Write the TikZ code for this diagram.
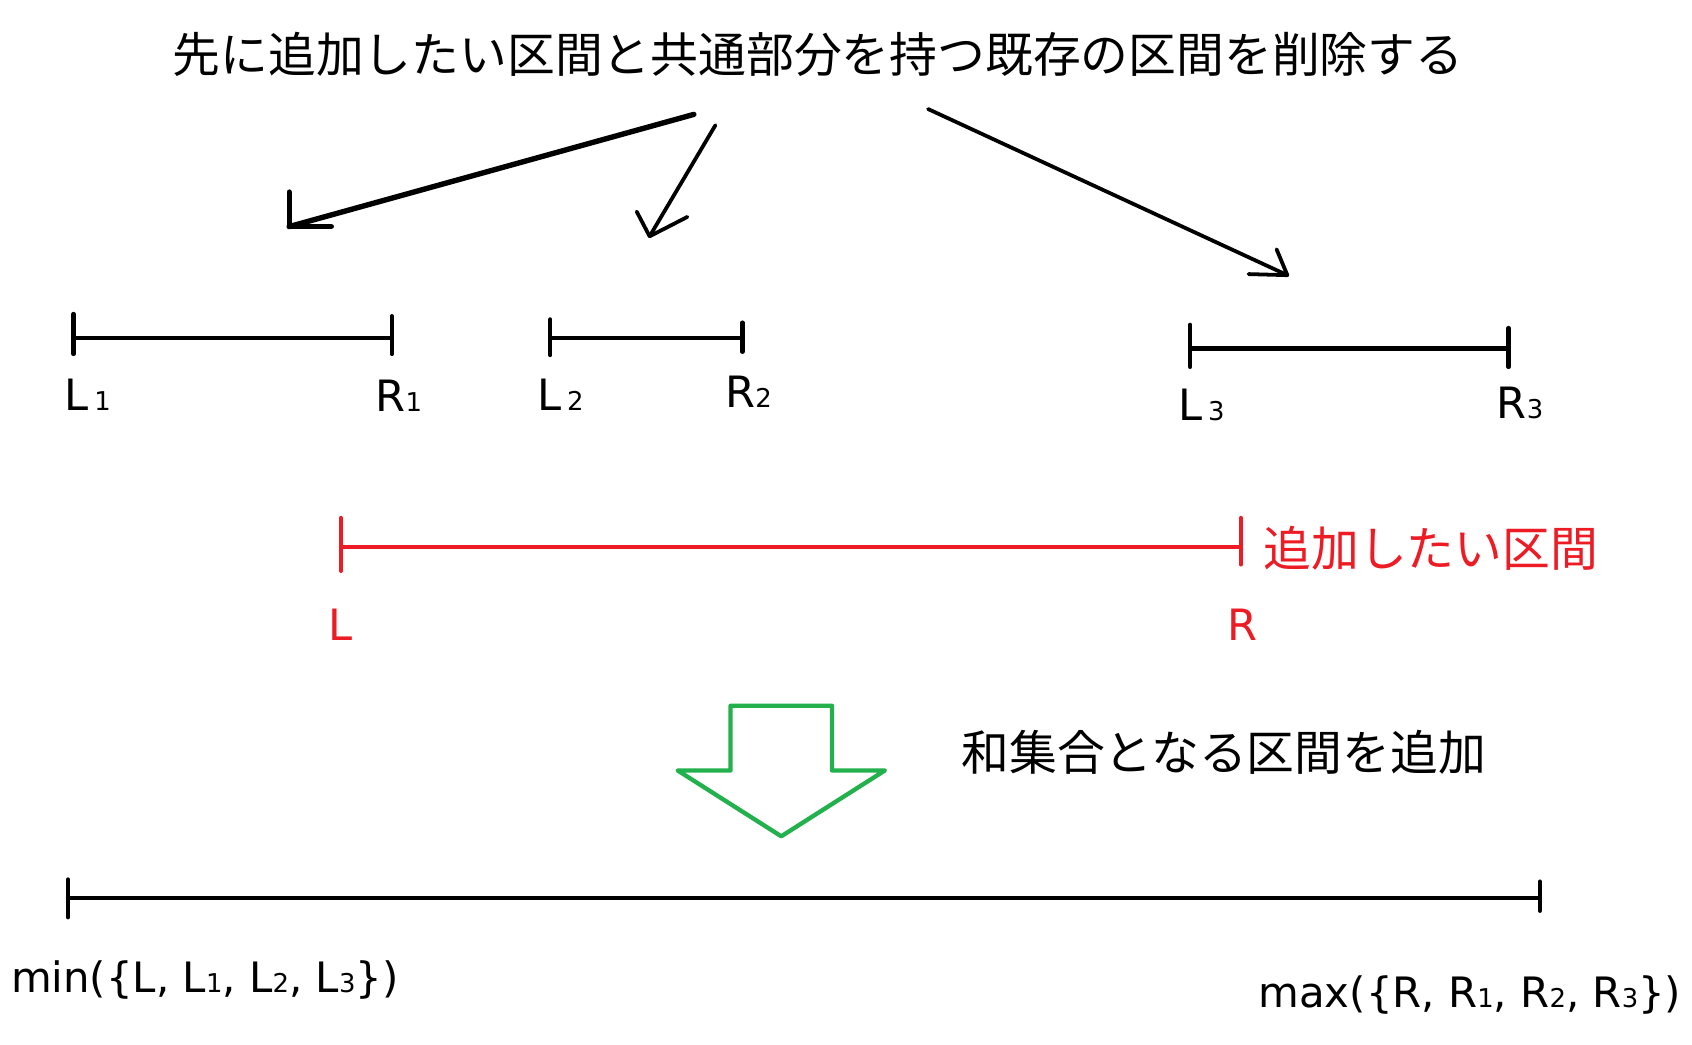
\documentclass[tikz,border=0pt]{standalone}
\usepackage{fontspec}
\setmainfont{Noto Sans CJK JP}
\newfontfamily\latinf{DejaVu Sans}
\definecolor{myred}{RGB}{237,28,36}
\definecolor{mygreen}{RGB}{34,177,76}
\newcommand{\bigf}{\fontsize{44.3}{50}\selectfont}
\newcommand{\labf}{\latinf\fontsize{40}{46}\selectfont}
\newcommand{\botf}{\latinf\fontsize{38.8}{46}\selectfont}
\newcommand{\subf}[1]{{\fontsize{24}{28}\selectfont #1}}
\begin{document}
\begin{tikzpicture}[x=1pt,y=-1pt,
  seg/.style={line width=4pt,line cap=round},
  hand/.style={line width=3.5pt,line cap=round,line join=round},
  txt/.style={inner sep=0pt,outer sep=0pt},
  lab/.style={inner sep=0pt,anchor=base west,font=\labf}]
\useasboundingbox (0,0) rectangle (1568,967.5);
\fill[white] (0,0) rectangle (1568,967.5);
% title
\node[txt,font=\bigf] (title) at (758,50) {先に追加したい区間と共通部分を持つ既存の区間を削除する};
% arrows
\coordinate (a1s) at (643,106); \coordinate (a1e) at (268,210);
\draw[hand,line width=5pt] (a1s) -- (a1e);
\draw[hand,line width=5pt] (268,178) -- (a1e) -- (307,210);
\coordinate (a2s) at (663,116); \coordinate (a2e) at (602,219);
\draw[hand] (a2s) -- (a2e);
\draw[hand] (590,196) -- (a2e) -- (637,201);
\coordinate (a3s) at (860,101); \coordinate (a3e) at (1193,255);
\draw[hand] (a3s) -- (a3e);
\draw[hand] (1183,231) -- (a3e) -- (1157,254);
% interval 1
\coordinate (i1l) at (68,313); \coordinate (i1r) at (363,313);
\draw[seg] (i1l) -- (i1r);
\draw[seg] (68,291) -- (68,328);
\draw[seg] (363,293) -- (363,328);
\node[lab] (L1) at (60,380) {L\hspace{5pt}\subf{1}};
\node[lab] (R1) at (348,381) {R\subf{1}};
% interval 2
\coordinate (i2l) at (510,313); \coordinate (i2r) at (688,313);
\draw[seg] (i2l) -- (i2r);
\draw[seg] (510,296) -- (510,329);
\draw[seg] (688,299) -- (688,326);
\node[lab] (L2) at (498,380) {L\hspace{5pt}\subf{2}};
\node[lab] (R2) at (672,378) {R\subf{2}};
% interval 3
\coordinate (i3l) at (1103,323); \coordinate (i3r) at (1398,323);
\draw[seg] (i3l) -- (i3r);
\draw[seg] (1103,301) -- (1103,340);
\draw[seg] (1398,304) -- (1398,340);
\node[lab] (L3) at (1092,390) {L\hspace{5pt}\subf{3}};
\node[lab] (R3) at (1387,388) {R\subf{3}};
% red interval
\coordinate (rl) at (316,507); \coordinate (rr) at (1150,507);
\draw[seg,myred] (rl) -- (rr);
\draw[seg,myred] (316,480) -- (316,529);
\draw[seg,myred] (1150,480) -- (1150,523);
\node[txt,font=\bigf,text=myred] (addlab) at (1326,508) {追加したい区間};
\node[lab,text=myred] (RL) at (304,594) {L};
\node[lab,text=myred] (RR) at (1137,594) {R};
% green arrow
\draw[mygreen,line width=4pt,line join=round]
  (677,654) -- (771,654) -- (771,714) -- (820,714) -- (724,775) -- (628,714) -- (677,714) -- cycle;
\node[txt,font=\bigf] (unionlab) at (1134,697) {和集合となる区間を追加};
% bottom interval
\coordinate (bl) at (63,832); \coordinate (br) at (1427,832);
\draw[seg] (bl) -- (br);
\draw[seg] (63,815) -- (63,850);
\draw[seg] (1427,817) -- (1427,844);
\node[lab,font=\botf] (minlab) at (10,920) {min(\{L, L\subf{1}, L\subf{2}, L\subf{3}\})};
\node[lab,font=\botf] (maxlab) at (1166,934) {max(\{R, R\subf{1}, R\subf{2}, R\subf{3}\})};
\end{tikzpicture}
\end{document}
